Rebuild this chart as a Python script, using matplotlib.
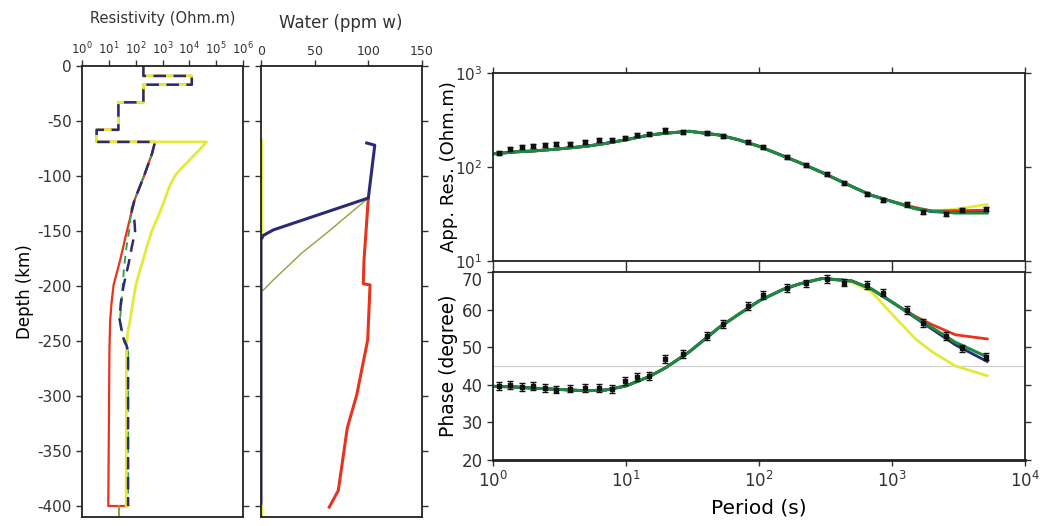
import matplotlib.pyplot as plt
from matplotlib.ticker import LogLocator, NullLocator, FixedLocator

plt.rcParams['font.family'] = ['DejaVu Sans']
plt.rcParams['axes.unicode_minus'] = False
plt.rcParams['text.color'] = '#333333'
plt.rcParams['xtick.color'] = '#333333'
plt.rcParams['ytick.color'] = '#333333'

RED = '#e8341f'
NAVY = '#2c2a74'
YEL = '#e3ea3c'
GRN = '#1c8a44'
OLIVE = '#8ca53c'

# ---- resistivity models (depth km, Ohm.m) ----
layer_depth = [0, -9, -9, -17, -17, -33, -33, -58, -58, -69]
layer_res = [193, 193, 12300, 12300, 193, 193, 22.6, 22.6, 3.5, 3.5]

red_depth = [-69, -69, -80, -100, -122, -150, -177, -199, -215, -231, -258, -400, -400]
red_res = [3.5, 525, 400, 204, 90, 47, 26, 15, 12.6, 11.2, 10.5, 9.5, 52]

grn_depth = [-69, -69, -80, -100, -122, -131, -146, -165, -185, -205, -230, -250, -260, -400]
grn_res = [3.5, 525, 400, 204, 90, 66, 60, 45, 36, 32, 26, 36, 52, 52]

yel_depth = [-69, -69, -78, -88, -95, -100, -106, -112, -125, -137, -150, -163, -176,
             -188, -199, -215, -231, -240, -255, -400, -400]
yel_res = [3.5, 44000, 20000, 8000, 4200, 2900, 2100, 1650, 1070, 680, 400, 270, 190,
           135, 102, 78, 62, 52, 45, 44, 52]

navy_depth = [-69, -69, -80, -100, -122, -132, -140, -150, -165, -180, -200, -215,
              -230, -245, -255, -260, -400, -400]
navy_res = [3.5, 525, 400, 204, 90, 71, 89, 95, 71, 54, 35, 28, 25, 32, 47, 52, 52, 52]

half_depth = [-400, -410]
half_res = [24, 24]

# ---- water content models (depth km, ppm wt) ----
wn_depth = [-70, -72, -120, -149, -154, -158, -400]
wn_water = [98.5, 106, 100, 11.5, 2.2, 0, 0]
wr_depth = [-120, -176, -198, -199, -249, -299, -329, -386, -401]
wr_water = [100, 96, 95.3, 101.6, 99.4, 89.2, 80.4, 72, 63.6]
wg_depth = [-120, -152, -170, -183, -195, -202, -205]
wg_water = [100, 61, 38, 24, 11, 4, 0.5]
wy_depth = [-67, -155]
wy_water = [0, 0]
wy2_depth = [-400, -410]
wy2_water = [0, 0]

# ---- MT data ----
period = [1.1, 1.35, 1.66, 2.0, 2.45, 3.0, 3.8, 4.9, 6.3, 7.9, 9.8, 12, 15, 19.5, 27,
          41, 54, 83, 107, 162, 224, 324, 437, 646, 851, 1290, 1700, 2570, 3390, 5130]
rho_obs = [141, 155, 162, 166, 170, 174, 174, 186, 195, 195, 204, 219, 224, 245, 234,
           229, 214, 186, 162, 129, 105, 85, 68, 52, 45, 40, 33, 32, 35, 36]
phase_obs = [39.7, 40.0, 39.4, 39.7, 39.1, 38.7, 39.0, 39.1, 39.1, 38.9, 41.0, 42.1,
             42.3, 46.9, 48.2, 53.0, 56.2, 60.9, 63.9, 65.7, 67.0, 68.1, 67.2, 66.5,
             64.5, 59.9, 56.4, 53.0, 49.7, 47.5]
rho_err = 0.05
phase_err = 1.0

model_T = [1, 1.5, 2, 3, 5, 7, 10, 15, 20, 30, 50, 70, 100, 150, 200, 300, 500, 700,
           1000, 1500, 2000, 3000, 5200]
rho_grn = [138, 145, 148, 155, 166, 178, 195, 219, 229, 240, 219, 195, 166, 132, 112,
           87, 62, 50, 43, 36, 34, 32.4, 32.4]
rho_red = rho_grn[:19] + [37, 34, 34.3, 34.7]
rho_navy = rho_grn[:19] + [36, 33.5, 32.7, 33]
rho_yel = rho_grn[:19] + [37, 34, 35.5, 40]
ph_grn = [39.6, 39.4, 39.1, 38.8, 38.4, 38.6, 39.7, 42.2, 44.6, 48.8, 55.2, 58.7, 62.3,
          65.3, 66.8, 68.3, 67.6, 65.5, 62.0, 58.0, 55.2, 51.3, 47.4]
ph_red = ph_grn[:19] + [58.2, 56.0, 53.3, 52.2]
ph_navy = ph_grn[:19] + [57.8, 54.8, 50.6, 46.2]
ph_yel = ph_grn[:16] + [67.3, 64.8, 58.8, 52.2, 48.8, 45.0, 42.4]

depth_ticks = [0, -50, -100, -150, -200, -250, -300, -350, -400]

fig = plt.figure(figsize=(10.41, 5.26), dpi=100)


def style(ax):
    for s in ax.spines.values():
        s.set_linewidth(1.3)
        s.set_color('#222222')
    ax.tick_params(which='both', direction='out', top=True, right=True, length=4,
                   width=1.0)


# resistivity panel
ax1 = fig.add_axes([0.0788, 0.0171, 0.1547, 0.8574])
ax1.plot(layer_res + red_res, layer_depth + red_depth, color=RED, lw=1.6)
ax1.plot(grn_res, grn_depth, color='#3aa346', lw=1.4, ls=(0, (4, 3)))
ax1.plot(layer_res + yel_res, layer_depth + yel_depth, color=YEL, lw=2.0)
ax1.plot(half_res, half_depth, color='#a0a030', lw=1.5)
ax1.plot(layer_res + navy_res, layer_depth + navy_depth, color=NAVY, lw=1.8,
         ls=(0, (5, 3)))
ax1.set_xscale('log')
ax1.set_xlim(1, 1e6)
ax1.set_ylim(-410, 0)
ax1.xaxis.set_major_locator(LogLocator(base=10, numticks=10))
ax1.xaxis.set_minor_locator(NullLocator())
ax1.xaxis.tick_top()
ax1.yaxis.set_major_locator(FixedLocator(depth_ticks))
style(ax1)
ax1.tick_params(axis='x', labeltop=True, labelbottom=False, labelsize=8.5, pad=2)
ax1.tick_params(axis='y', labelsize=11)
ax1.set_ylabel('Depth (km)', fontsize=12)
ax1.yaxis.set_label_coords(-0.30, 0.5)
fig.text(0.156, 0.965, 'Resistivity (Ohm.m)', ha='center', va='center', fontsize=10.5)

# water panel
ax2 = fig.add_axes([0.2507, 0.0171, 0.1547, 0.8574])
ax2.plot(wr_water, wr_depth, color=RED, lw=2.2)
ax2.plot(wg_water, wg_depth, color=OLIVE, lw=1.0)
ax2.plot(wy_water, wy_depth, color=YEL, lw=2.4)
ax2.plot(wn_water, wn_depth, color=NAVY, lw=2.2)
ax2.plot(wy2_water, wy2_depth, color=YEL, lw=2.4)
ax2.set_xlim(0, 150)
ax2.set_ylim(-410, 0)
ax2.xaxis.set_major_locator(FixedLocator([0, 50, 100, 150]))
ax2.yaxis.set_major_locator(FixedLocator(depth_ticks))
ax2.xaxis.tick_top()
style(ax2)
ax2.tick_params(axis='x', labeltop=True, labelbottom=False, labelsize=9, pad=2)
ax2.tick_params(axis='y', labelleft=False)
fig.text(0.327, 0.957, 'Water (ppm w)', ha='center', va='center', fontsize=12)

# apparent resistivity panel
ax3 = fig.add_axes([0.4736, 0.5038, 0.511, 0.3574])
ax3.plot(model_T, rho_yel, color=YEL, lw=2.0)
ax3.plot(model_T, rho_red, color=RED, lw=2.0)
ax3.plot(model_T, rho_navy, color=NAVY, lw=2.0)
ax3.plot(model_T, rho_grn, color=GRN, lw=2.2)
rho_bar = [r * rho_err for r in rho_obs]
ax3.errorbar(period, rho_obs, yerr=rho_bar, fmt='s', ms=2.5, color='#111111',
             ecolor='#111111', elinewidth=1.0, capsize=2.2)
ax3.set_xscale('log')
ax3.set_yscale('log')
ax3.set_xlim(1, 1e4)
ax3.set_ylim(10, 1000)
ax3.xaxis.set_minor_locator(NullLocator())
ax3.yaxis.set_minor_locator(NullLocator())
style(ax3)
ax3.tick_params(axis='x', labelbottom=False)
ax3.tick_params(axis='y', labelsize=11)
ax3.set_ylabel('App. Res. (Ohm.m)', fontsize=13)
ax3.yaxis.set_label_coords(-0.066, 0.5)

# phase panel
ax4 = fig.add_axes([0.4736, 0.1255, 0.511, 0.3574])
ax4.axhline(45, color='#cfcfcf', lw=0.8)
ax4.plot(model_T, ph_yel, color=YEL, lw=2.0)
ax4.plot(model_T, ph_red, color=RED, lw=2.0)
ax4.plot(model_T, ph_navy, color=NAVY, lw=2.0)
ax4.plot(model_T, ph_grn, color=GRN, lw=2.2)
ax4.errorbar(period, phase_obs, yerr=phase_err, fmt='s', ms=2.5, color='#111111',
             ecolor='#111111', elinewidth=1.0, capsize=2.2)
ax4.set_xscale('log')
ax4.set_xlim(1, 1e4)
ax4.set_ylim(20, 70)
ax4.xaxis.set_minor_locator(NullLocator())
ax4.yaxis.set_major_locator(FixedLocator([20, 30, 40, 50, 60, 70]))
style(ax4)
ax4.spines['bottom'].set_linewidth(2.0)
ax4.tick_params(axis='both', labelsize=12)
ax4.set_ylabel('Phase (degree)', fontsize=13.5)
ax4.yaxis.set_label_coords(-0.066, 0.5)
ax4.set_xlabel('Period (s)', fontsize=14.5, labelpad=6)

# keep the 10^1 and 70 labels from running into each other
fig.canvas.draw()
ax3.get_yticklabels()[0].set_va('bottom')
ax4.get_yticklabels()[-1].set_va('top')

fig.savefig('out.png', dpi=100)
